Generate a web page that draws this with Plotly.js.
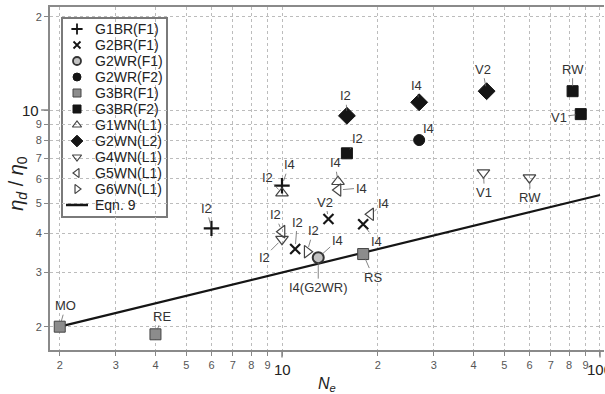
<!DOCTYPE html>
<html>
<head>
<meta charset="utf-8">
<script src="https://cdn.plot.ly/plotly-3.0.1.min.js"></script>
<style>
  html, body { margin: 0; padding: 0; background: #fff; }
  #chart { width: 605px; height: 394px; }
</style>
</head>
<body>
<div id="chart"></div>
<script>
// Normalised viscosity ratio against entanglement number, per sample group.
const g1brX = [6, 10];          const g1brY = [4.15, 5.7];         const g1brLab = ['I2', 'I4'];
const g2brX = [11, 14, 18];     const g2brY = [3.56, 4.45, 4.28];  const g2brLab = ['I2', 'V2', 'I4'];
const g2wrF1X = [13];           const g2wrF1Y = [3.34];            const g2wrF1Lab = ['I4'];
const g2wrF2X = [27];           const g2wrF2Y = [8.0];             const g2wrF2Lab = ['I4'];
const g3brF1X = [2, 4, 18];     const g3brF1Y = [2.0, 1.89, 3.43]; const g3brF1Lab = ['MO', 'RE', 'RS'];
const g3brF2X = [16, 82, 87];   const g3brF2Y = [7.25, 11.5, 9.7]; const g3brF2Lab = ['I2', 'RW', 'V1'];
const g1wnX = [10, 15];         const g1wnY = [5.39, 5.87];        const g1wnLab = ['I2', 'I4'];
const g2wnX = [16, 27, 44];     const g2wnY = [9.58, 10.59, 11.5]; const g2wnLab = ['I2', 'I4', 'V2'];
const g4wnX = [10, 43, 60];     const g4wnY = [3.83, 6.28, 6.05];  const g4wnLab = ['I2', 'V1', 'RW'];
const g5wnX = [10, 15, 19];     const g5wnY = [4.05, 5.52, 4.61];  const g5wnLab = ['I2', 'I4', 'I4'];
const g6wnX = [12];             const g6wnY = [3.49];              const g6wnLab = ['I2'];
// second caption on the G2WR(F1) point
const g2wrF1Extra = ['I4(G2WR)'];

// Eqn. 9 (straight in log-log space): end points
const eqnName = 'Eqn. 9';
const eqnX = [2, 100];
const eqnY = [2, 5.32];

const xTickVals = [2, 3, 4, 5, 6, 7, 8, 9, 10, 20, 30, 40, 50, 60, 70, 80, 90, 100];
const xTickText = ['2', '3', '4', '5', '6', '7', '8', '9', ' ', '2', '3', '4', '5', '6', '7', '8', '9', ' '];
const yTickVals = [2, 3, 4, 5, 6, 7, 8, 9, 10, 20];
const yTickText = ['2', '3', '4', '5', '6', '7', '8', '9', ' ', '2'];

// ---- styling ----
const FONT = 'Liberation Sans, Arial, Helvetica, sans-serif';
const XR = [0.2704, 2.0126];
const YR = [0.2258, 1.3323];
const INK = '#151515';

const openLine = { color: '#444', width: 1.2 };
const series = [
  { name: 'G1BR(F1)', x: g1brX, y: g1brY, lab: g1brLab,
    marker: { symbol: 'cross-thin', size: 11, line: { color: INK, width: 2.2 } } },
  { name: 'G2BR(F1)', x: g2brX, y: g2brY, lab: g2brLab,
    marker: { symbol: 'x-thin', size: 10, line: { color: INK, width: 2.2 } } },
  { name: 'G2WR(F1)', x: g2wrF1X, y: g2wrF1Y, lab: g2wrF1Lab,
    marker: { symbol: 'circle', size: 11, color: '#c2c2c2', line: { color: '#333', width: 2 } } },
  { name: 'G2WR(F2)', x: g2wrF2X, y: g2wrF2Y, lab: g2wrF2Lab,
    marker: { symbol: 'circle', size: 11, color: INK, line: { color: INK, width: 1 } } },
  { name: 'G3BR(F1)', x: g3brF1X, y: g3brF1Y, lab: g3brF1Lab,
    marker: { symbol: 'square', size: 11, color: '#8c8c8c', line: { color: '#444', width: 1 } } },
  { name: 'G3BR(F2)', x: g3brF2X, y: g3brF2Y, lab: g3brF2Lab,
    marker: { symbol: 'square', size: 11, color: INK, line: { color: INK, width: 1 } } },
  { name: 'G1WN(L1)', x: g1wnX, y: g1wnY, lab: g1wnLab,
    marker: { symbol: 'triangle-up-open', size: 11, color: '#444', line: openLine } },
  { name: 'G2WN(L2)', x: g2wnX, y: g2wnY, lab: g2wnLab,
    marker: { symbol: 'diamond', size: 13, color: INK, line: { color: INK, width: 1 } } },
  { name: 'G4WN(L1)', x: g4wnX, y: g4wnY, lab: g4wnLab,
    marker: { symbol: 'triangle-down-open', size: 11, color: '#444', line: openLine } },
  { name: 'G5WN(L1)', x: g5wnX, y: g5wnY, lab: g5wnLab,
    marker: { symbol: 'triangle-left-open', size: 11, color: '#444', line: openLine } },
  { name: 'G6WN(L1)', x: g6wnX, y: g6wnY, lab: g6wnLab,
    marker: { symbol: 'triangle-right-open', size: 11, color: '#444', line: openLine } }
];

// caption offsets (px) from each point, in series order
const captionOffsets = [
  [[-5, -20], [7, -21]],
  [[2, -27], [-3, -17], [13, 17]],
  [[19, -17]],
  [[9, -12]],
  [[6, -21], [7, -18], [10, 23]],
  [[11, -15], [0, -22], [-22, 3]],
  [[-15, -16], [-3, -19]],
  [[-1, -20], [-3, -17], [-4, -22]],
  [[-18, 18], [1, 20], [1, 20]],
  [[-7, -17], [23, -2], [13, -11]],
  [[6, -21]]
];

const traces = [{
  type: 'scatter', mode: 'lines', name: eqnName, x: eqnX, y: eqnY,
  line: { color: INK, width: 2.2 }, showlegend: false, cliponaxis: false
}];
series.forEach(s => traces.push({
  type: 'scatter', mode: 'markers', name: s.name, x: s.x, y: s.y,
  marker: s.marker, showlegend: false, cliponaxis: false
}));

// ---- key box: drawn on an overlay axis pair measured in pixels ----
const PLOT = { left: 50, right: 604, top: 7, bottom: 350 };
const KEY = { left: 62, right: 167, top: 18, bottom: 217, row0: 29, rowStep: 16, sym: 77, text: 93 };
const keySymbolSize = 0.72;
series.forEach((s, i) => {
  const m = JSON.parse(JSON.stringify(s.marker));
  m.size = Math.round(m.size * keySymbolSize);
  if (m.line && m.line.width > 1.5) m.line.width = 1.8;
  traces.push({
    type: 'scatter', mode: 'markers', xaxis: 'x2', yaxis: 'y2', showlegend: false,
    x: [KEY.sym], y: [KEY.row0 + KEY.rowStep * i], marker: m, cliponaxis: false
  });
});
const eqnRow = KEY.row0 + KEY.rowStep * series.length;
traces.push({
  type: 'scatter', mode: 'lines', xaxis: 'x2', yaxis: 'y2', showlegend: false,
  x: [KEY.sym - 11, KEY.sym + 11], y: [eqnRow, eqnRow],
  line: { color: INK, width: 2.5 }, cliponaxis: false
});

const captionFont = { family: FONT, size: 13, color: '#333' };
function caption(xv, yv, text, off) {
  return {
    x: Math.log10(xv), y: Math.log10(yv), xref: 'x', yref: 'y', text: text,
    showarrow: true, arrowhead: 0, arrowwidth: 0.8, arrowcolor: '#666',
    ax: off[0], ay: off[1], standoff: 5, font: captionFont
  };
}

const annotations = [];
series.forEach((s, i) => {
  s.lab.forEach((t, j) => annotations.push(caption(s.x[j], s.y[j], t, captionOffsets[i][j])));
});
annotations.push(caption(g2wrF1X[0], g2wrF1Y[0], g2wrF1Extra[0], [0, 30]));

// key texts
const keyFont = { family: FONT, size: 14, color: '#222' };
series.map(s => s.name).concat([eqnName]).forEach((t, i) => annotations.push({
  x: KEY.text, y: KEY.row0 + KEY.rowStep * i, xref: 'x2', yref: 'y2', text: t,
  showarrow: false, xanchor: 'left', yanchor: 'middle', font: keyFont
}));

// decade labels and axis titles
const decadeFont = { family: FONT, size: 15, color: '#222' };
annotations.push({ x: 1, y: -0.058, xref: 'x', yref: 'paper', text: '10', showarrow: false,
  font: decadeFont, xanchor: 'center', yanchor: 'middle' });
annotations.push({ x: 2, y: -0.058, xref: 'x', yref: 'paper', text: '100', showarrow: false,
  font: decadeFont, xanchor: 'center', yanchor: 'middle' });
annotations.push({ x: -0.016, y: 1, xref: 'paper', yref: 'y', text: '10', showarrow: false,
  font: decadeFont, xanchor: 'right', yanchor: 'middle' });
annotations.push({ x: 0.5, y: -0.1, xref: 'paper', yref: 'paper',
  text: '<i>N</i><sub><i>e</i></sub>', showarrow: false,
  font: { family: FONT, size: 16, color: '#222' }, xanchor: 'center', yanchor: 'middle' });
annotations.push({ x: -0.058, y: 0.487, xref: 'paper', yref: 'paper', textangle: -90,
  text: '<i>η</i><sub><i>d</i></sub> / <i>η</i><sub>0</sub>', showarrow: false,
  font: { family: FONT, size: 20, color: '#222' }, xanchor: 'center', yanchor: 'middle' });

// longer tick marks at the decades, and the key frame
const xp = v => (Math.log10(v) - XR[0]) / (XR[1] - XR[0]);
const yp = v => (Math.log10(v) - YR[0]) / (YR[1] - YR[0]);
const pxX = px => (px - PLOT.left) / (PLOT.right - PLOT.left);
const pxY = py => (PLOT.bottom - py) / (PLOT.bottom - PLOT.top);
const shapes = [
  { type: 'rect', xref: 'paper', yref: 'paper',
    x0: pxX(KEY.left), x1: pxX(KEY.right), y0: pxY(KEY.bottom), y1: pxY(KEY.top),
    fillcolor: '#fff', line: { color: '#7a7a7a', width: 2 }, layer: 'between' },
  { type: 'line', xref: 'paper', yref: 'paper', x0: xp(10), x1: xp(10), y0: 0, y1: -0.022,
    line: { color: '#888', width: 1.5 } },
  { type: 'line', xref: 'paper', yref: 'paper', x0: xp(100), x1: xp(100), y0: 0, y1: -0.022,
    line: { color: '#888', width: 1.5 } },
  { type: 'line', xref: 'paper', yref: 'paper', x0: 0, x1: -0.016, y0: yp(10), y1: yp(10),
    line: { color: '#888', width: 1.5 } }
];

const axisCommon = {
  type: 'log', showline: true, linecolor: '#8a8a8a', linewidth: 2,
  ticks: 'outside', ticklen: 4, tickwidth: 1, tickcolor: '#888',
  showgrid: true, gridcolor: '#bcbcbc', griddash: 'dot', gridwidth: 1,
  zeroline: false, tickmode: 'array',
  tickfont: { family: FONT, size: 11, color: '#555' }
};

const hidden = { showline: false, showgrid: false, zeroline: false, showticklabels: false,
  ticks: '', fixedrange: true };

const layout = {
  width: 605, height: 394,
  margin: { l: PLOT.left, r: 605 - PLOT.right, t: PLOT.top, b: 394 - PLOT.bottom },
  paper_bgcolor: '#fff', plot_bgcolor: '#fff',
  font: { family: FONT },
  showlegend: false,
  xaxis: Object.assign({}, axisCommon, {
    range: XR, tickvals: xTickVals, ticktext: xTickText, mirror: true
  }),
  yaxis: Object.assign({}, axisCommon, {
    range: YR, tickvals: yTickVals, ticktext: yTickText, mirror: false
  }),
  xaxis2: Object.assign({}, hidden, { overlaying: 'x', range: [PLOT.left, PLOT.right], anchor: 'y2' }),
  yaxis2: Object.assign({}, hidden, { overlaying: 'y', range: [PLOT.bottom, PLOT.top], anchor: 'x2' }),
  annotations: annotations,
  shapes: shapes
};

Plotly.newPlot('chart', traces, layout, { displayModeBar: false, staticPlot: true });
</script>
</body>
</html>
